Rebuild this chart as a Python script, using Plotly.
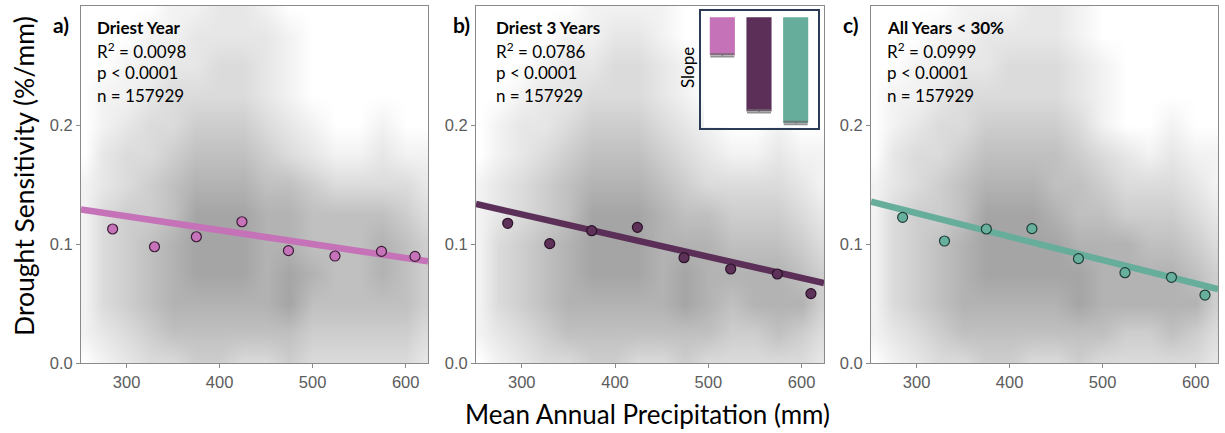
import plotly.graph_objects as go

W, H = 1225, 433

# ---------------- data ----------------
panel_titles = ["Driest Year", "Driest 3 Years", "All Years < 30%"]
panel_letters = ["a)", "b)", "c)"]
r2_values = ["0.0098", "0.0786", "0.0999"]
p_text = "p < 0.0001"
n_text = "n = 157929"

bin_x = [285, 330, 375, 424, 474, 524, 574, 610]
bin_y_a = [0.1126, 0.0977, 0.1061, 0.1187, 0.0944, 0.0899, 0.0938, 0.0896]
bin_y_b = [0.1174, 0.1003, 0.1112, 0.1140, 0.0885, 0.0790, 0.0748, 0.0583]
bin_y_c = [0.1224, 0.1025, 0.1126, 0.1129, 0.0877, 0.0759, 0.0720, 0.0571]

fit_intercepts = [0.1584, 0.1783, 0.1850]
fit_slopes = [-0.000117, -0.000178, -0.000197]

x_range = [251, 624]
y_range = [0, 0.3]
x_ticks = [300, 400, 500, 600]
y_ticks = [0.0, 0.1, 0.2]

inset_labels = ["Driest Year", "Driest 3 Years", "All Years < 30%"]
inset_slopes = [-0.36, -0.89, -1.0]
inset_err = [0.012, 0.012, 0.012]

# density of the background point cloud (0 = empty, 8 = densest), read by eye
heat_x = [255, 275, 300, 325, 350, 375, 400, 425, 450, 475, 500, 525, 550, 575, 600, 620]
heat_y = [0.0, 0.025, 0.05, 0.075, 0.1, 0.125, 0.15, 0.175, 0.2, 0.225, 0.25, 0.275, 0.3]
density_a = [
    [0, 1, 2, 3, 3, 4, 4, 3, 3, 4, 3, 3, 3, 3, 3, 2],
    [1, 2, 3, 4, 5, 5, 5, 5, 5, 5, 4, 4, 4, 4, 4, 3],
    [1, 3, 4, 5, 6, 6, 6, 6, 6, 7, 5, 5, 5, 5, 5, 4],
    [1, 3, 4, 5, 6, 7, 7, 7, 6, 7, 6, 5, 5, 6, 5, 4],
    [1, 3, 4, 5, 6, 7, 7, 7, 6, 6, 5, 5, 5, 6, 5, 4],
    [1, 3, 4, 4, 5, 7, 7, 7, 6, 6, 5, 5, 5, 5, 4, 3],
    [1, 2, 3, 4, 5, 6, 6, 6, 5, 5, 4, 3, 3, 3, 3, 2],
    [0, 2, 3, 3, 4, 5, 5, 5, 4, 3, 2, 1, 1, 2, 1, 1],
    [0, 1, 2, 3, 3, 4, 4, 4, 3, 2, 1, 0, 0, 1, 0, 0],
    [0, 1, 1, 2, 3, 3, 3, 3, 2, 1, 0, 0, 0, 0, 0, 0],
    [0, 0, 1, 1, 2, 2, 3, 3, 2, 1, 0, 0, 0, 0, 0, 0],
    [0, 0, 0, 1, 1, 2, 2, 2, 2, 1, 0, 0, 0, 0, 0, 0],
    [0, 0, 0, 0, 1, 1, 2, 2, 1, 0, 0, 0, 0, 0, 0, 0],
]
density_b = [
    [0, 1, 2, 3, 3, 4, 4, 3, 3, 4, 3, 3, 3, 3, 3, 2],
    [1, 2, 3, 4, 5, 5, 5, 5, 5, 5, 5, 4, 4, 5, 4, 3],
    [1, 3, 4, 5, 6, 6, 6, 6, 6, 7, 6, 5, 6, 6, 6, 4],
    [1, 3, 4, 5, 6, 7, 7, 7, 6, 7, 6, 6, 6, 6, 5, 4],
    [1, 3, 4, 5, 6, 7, 7, 7, 6, 6, 6, 5, 5, 5, 4, 3],
    [1, 2, 3, 4, 5, 7, 7, 7, 6, 5, 5, 4, 4, 4, 3, 2],
    [1, 2, 3, 4, 5, 6, 6, 6, 5, 4, 3, 3, 3, 3, 2, 1],
    [0, 1, 2, 3, 4, 5, 5, 5, 4, 3, 2, 1, 1, 2, 1, 1],
    [0, 1, 2, 2, 3, 4, 4, 4, 3, 2, 1, 0, 0, 1, 0, 0],
    [0, 0, 1, 2, 2, 3, 3, 3, 2, 1, 0, 0, 0, 0, 0, 0],
    [0, 0, 0, 1, 2, 2, 3, 3, 2, 1, 0, 0, 0, 0, 0, 0],
    [0, 0, 0, 0, 1, 1, 2, 2, 1, 0, 0, 0, 0, 0, 0, 0],
    [0, 0, 0, 0, 0, 1, 1, 1, 1, 0, 0, 0, 0, 0, 0, 0],
]
density_c = [
    [0, 1, 2, 3, 3, 4, 4, 3, 3, 4, 3, 3, 3, 3, 3, 2],
    [1, 2, 3, 4, 5, 5, 5, 5, 5, 5, 5, 4, 4, 5, 4, 3],
    [1, 3, 4, 5, 6, 6, 6, 6, 6, 7, 6, 6, 6, 6, 6, 4],
    [1, 3, 4, 5, 6, 7, 7, 7, 7, 7, 6, 6, 6, 6, 5, 4],
    [1, 3, 4, 5, 6, 7, 7, 7, 7, 6, 6, 6, 5, 5, 4, 3],
    [1, 3, 4, 4, 5, 7, 7, 7, 6, 5, 5, 4, 4, 4, 3, 2],
    [1, 2, 3, 4, 5, 6, 6, 6, 5, 5, 4, 3, 3, 3, 2, 1],
    [0, 2, 3, 3, 4, 5, 5, 5, 5, 4, 3, 2, 1, 2, 1, 1],
    [0, 1, 2, 3, 3, 4, 4, 4, 4, 3, 1, 0, 0, 1, 0, 0],
    [0, 1, 1, 2, 3, 3, 3, 3, 3, 2, 1, 0, 0, 0, 0, 0],
    [0, 0, 1, 1, 2, 2, 3, 3, 3, 2, 1, 0, 0, 0, 0, 0],
    [0, 0, 0, 1, 1, 2, 2, 2, 2, 1, 0, 0, 0, 0, 0, 0],
    [0, 0, 0, 0, 1, 1, 1, 2, 2, 1, 0, 0, 0, 0, 0, 0],
]

# ---------------- styles ----------------
line_colors = ["#c572b8", "#5b2f57", "#67ad9c"]
marker_fill = ["#c673b9", "#5e3159", "#68b09e"]
marker_edge = ["#3a1d36", "#2a1228", "#1f3d35"]
text_font = "Lato, 'Open Sans', sans-serif"
tick_font = "'Liberation Sans', Arial, sans-serif"
axis_gray = "#8a8a8a"
cloud_scale = [[0, "#ffffff"], [0.125, "#f2f2f2"], [0.375, "#dbdbdb"],
               [0.625, "#c0c0c0"], [0.875, "#a5a5a5"], [1, "#999999"]]

x_domains = [[81 / W, 428 / W], [476 / W, 824 / W], [871 / W, 1218 / W]]
y_domain = [1 - 363 / H, 1 - 6 / H]
text_left_px = [95, 494, 885]
letter_center_px = [61, 461, 851]

densities = [density_a, density_b, density_c]
bin_ys = [bin_y_a, bin_y_b, bin_y_c]

fig = go.Figure()

for i in range(3):
    xa = "x" if i == 0 else f"x{i + 1}"
    ya = "y" if i == 0 else f"y{i + 1}"
    fig.add_trace(go.Heatmap(
        x=heat_x, y=heat_y, z=densities[i], zmin=0, zmax=8, zsmooth="best",
        colorscale=cloud_scale, showscale=False,
        hoverinfo="skip", xaxis=xa, yaxis=ya))
    fx = x_range
    fy = [fit_intercepts[i] + fit_slopes[i] * v for v in fx]
    fig.add_trace(go.Scatter(
        x=fx, y=fy, mode="lines", line=dict(color=line_colors[i], width=6.5),
        showlegend=False, hoverinfo="skip", xaxis=xa, yaxis=ya))
    fig.add_trace(go.Scatter(
        x=bin_x, y=bin_ys[i], mode="markers",
        marker=dict(size=10, color=marker_fill[i],
                    line=dict(color=marker_edge[i], width=1.2)),
        showlegend=False, xaxis=xa, yaxis=ya))

# inset bar chart of slopes
fig.add_trace(go.Bar(
    x=inset_labels, y=inset_slopes, marker=dict(color=line_colors, line=dict(width=0)),
    error_y=dict(type="data", array=inset_err, color="rgba(110,110,110,0.75)",
                 thickness=2, width=12),
    width=0.685, showlegend=False, xaxis="x4", yaxis="y4"))

axis_common = dict(showline=True, mirror=True, linecolor=axis_gray, linewidth=1,
                   ticks="outside", ticklen=4, tickcolor=axis_gray, tickwidth=1,
                   showgrid=False, zeroline=False, automargin=False,
                   tickfont=dict(family=tick_font, size=16.5, color="#5c5c5c"))

layout = dict(width=W, height=H, margin=dict(l=0, r=0, t=0, b=0, autoexpand=False),
              paper_bgcolor="white", plot_bgcolor="white", showlegend=False)
for i in range(3):
    xk = "xaxis" if i == 0 else f"xaxis{i + 1}"
    yk = "yaxis" if i == 0 else f"yaxis{i + 1}"
    ya = "y" if i == 0 else f"y{i + 1}"
    xa = "x" if i == 0 else f"x{i + 1}"
    layout[xk] = dict(axis_common, domain=x_domains[i], range=x_range,
                      tickvals=x_ticks, anchor=ya)
    layout[yk] = dict(axis_common, domain=y_domain, range=y_range,
                      tickvals=y_ticks, tickformat=".1f", anchor=xa)

layout["xaxis4"] = dict(domain=[704 / W, 814 / W], range=[-0.5, 2.5], anchor="y4",
                        showticklabels=False, showgrid=False, zeroline=False,
                        showline=False, ticks="", automargin=False)
layout["yaxis4"] = dict(domain=[1 - 127.2 / H, 1 - 15.2 / H], range=[-1.04, 0.02],
                        anchor="x4", showticklabels=False, showgrid=False,
                        zeroline=False, showline=False, ticks="", automargin=False)
fig.update_layout(**layout)

# inset frame
fig.add_shape(type="rect", xref="paper", yref="paper",
              x0=700 / W, x1=819 / W, y0=1 - 129 / H, y1=1 - 10 / H,
              line=dict(color="#2b3a55", width=2), fillcolor="rgba(0,0,0,0)")

ann = []
for i in range(3):
    lx = text_left_px[i] / W
    ann.append(dict(text=f"<b>{panel_titles[i]}</b>", x=lx, y=1 - 27 / H))
    ann.append(dict(text=f"R<sup>2</sup> = {r2_values[i]}", x=lx, y=1 - 50 / H))
    ann.append(dict(text=p_text, x=lx, y=1 - 73 / H))
    ann.append(dict(text=n_text, x=lx, y=1 - 96 / H))
annotations = []
for a in ann:
    annotations.append(dict(a, xref="paper", yref="paper", xanchor="left",
                            yanchor="middle", showarrow=False,
                            font=dict(family=text_font, size=17, color="black")))
for i in range(3):
    annotations.append(dict(text=f"<b>{panel_letters[i]}</b>", x=letter_center_px[i] / W,
                            y=1 - 25 / H, xref="paper", yref="paper", xanchor="center",
                            yanchor="middle", showarrow=False,
                            font=dict(family=text_font, size=21, color="black")))
annotations.append(dict(text="Slope", x=687 / W, y=1 - 67 / H, xref="paper", yref="paper",
                        textangle=-90, showarrow=False, xanchor="center", yanchor="middle",
                        font=dict(family=text_font, size=17, color="black")))
annotations.append(dict(text="Drought Sensitivity (%/mm)", x=24 / W, y=1 - 176 / H,
                        xref="paper", yref="paper", textangle=-90, showarrow=False,
                        xanchor="center", yanchor="middle",
                        font=dict(family=text_font, size=26.5, color="black")))
annotations.append(dict(text="Mean Annual Precipitation (mm)", x=647 / W, y=1 - 414 / H,
                        xref="paper", yref="paper", showarrow=False,
                        xanchor="center", yanchor="middle",
                        font=dict(family=text_font, size=26, color="black")))
fig.update_layout(annotations=annotations)

fig.write_html("out.html", config={"displayModeBar": False},
               post_script="document.body.style.margin='0px';document.body.style.overflow='hidden';")
